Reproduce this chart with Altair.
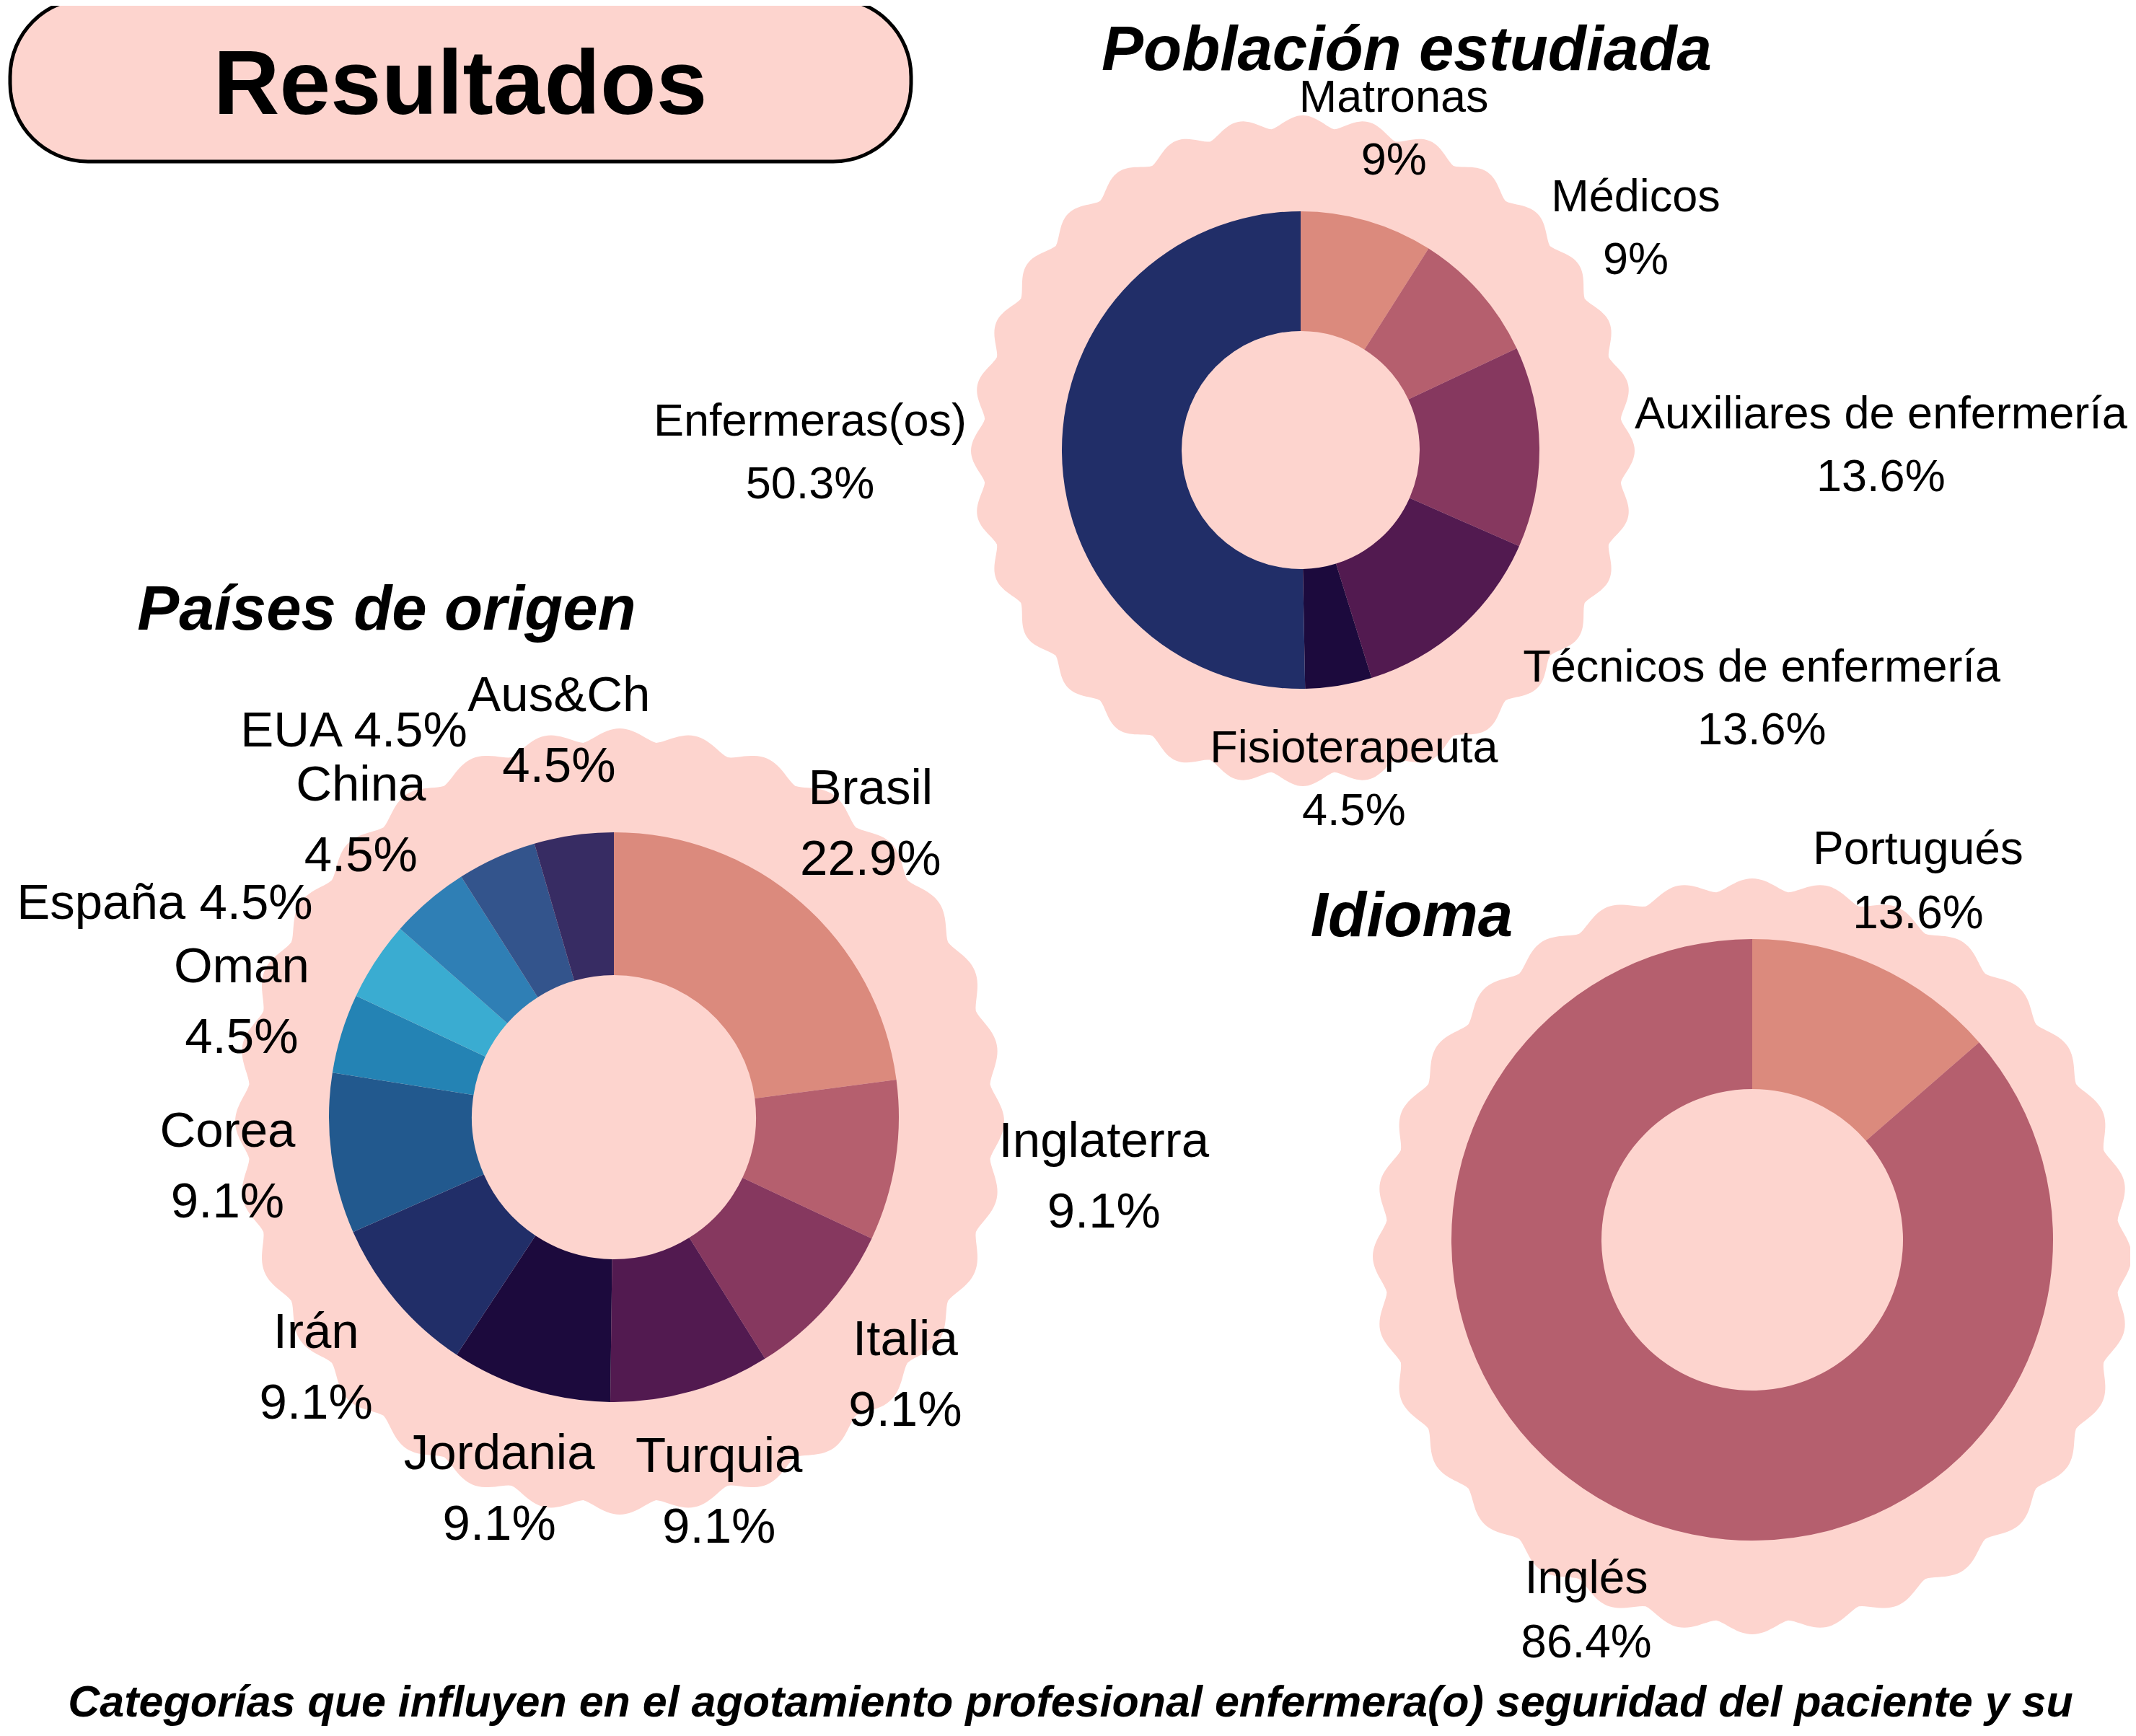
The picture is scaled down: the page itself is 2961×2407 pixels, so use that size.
import json
import math

import altair as alt
import pandas as pd

# ------------------------------------------------------------------ data
poblacion_cat = ["Matronas", "Médicos", "Auxiliares de enfermería",
                 "Técnicos de enfermería", "Fisioterapeuta", "Enfermeras(os)"]
poblacion_val = [9.0, 9.0, 13.6, 13.6, 4.5, 50.3]
poblacion_lbl = ["9%", "9%", "13.6%", "13.6%", "4.5%", "50.3%"]

paises_cat = ["Brasil", "Inglaterra", "Italia", "Turquia", "Jordania", "Irán",
              "Corea", "Oman", "España", "China", "EUA", "Aus&Ch"]
paises_val = [22.9, 9.1, 9.1, 9.1, 9.1, 9.1, 9.1, 4.5, 4.5, 4.5, 4.5, 4.5]
paises_lbl = ["22.9%", "9.1%", "9.1%", "9.1%", "9.1%", "9.1%", "9.1%",
              "4.5%", "4.5%", "4.5%", "4.5%", "4.5%"]

idioma_cat = ["Portugués", "Inglés"]
idioma_val = [13.6, 86.4]
idioma_lbl = ["13.6%", "86.4%"]

TITLE_MAIN = "Resultados"
TITLE_POB = "Población estudiada"
TITLE_PAI = "Países de origen"
TITLE_IDI = "Idioma"
FOOTER = ("Categorías que influyen en el agotamiento profesional enfermera(o) "
          "seguridad del paciente y su")

# ------------------------------------------------------------------ styles
PINK = "#FDD4CE"
SALMON, ROSE, PLUM, PURPLE, DARKEST, NAVY = (
    "#DB8A7D", "#B55F6E", "#86385F", "#521A50", "#1C0A3D", "#212E68")
poblacion_colors = [SALMON, ROSE, PLUM, PURPLE, DARKEST, NAVY]
paises_colors = [SALMON, ROSE, PLUM, PURPLE, DARKEST, NAVY,
                 "#22598E", "#2483B4", "#3AACD1", "#2F7FB5", "#33548C", "#372C63"]
idioma_colors = [SALMON, ROSE]

FONT = "Liberation Sans"
W, H = 2945, 2388
MARGIN = 8

# Arial / Liberation Sans advance widths (1/1000 em) for text measuring
_CW = {" ": 278, "%": 889, ".": 278, "(": 333, ")": 333, "&": 667,
       "A": 667, "C": 722, "E": 667, "I": 278, "J": 500, "M": 833, "O": 778,
       "P": 667, "T": 611, "B": 667, "U": 722, "F": 611,
       "a": 556, "b": 556, "c": 500, "d": 556, "e": 556, "f": 278, "g": 556,
       "h": 556, "i": 222, "j": 222, "k": 500, "l": 222, "m": 833, "n": 556,
       "o": 556, "p": 556, "q": 556, "r": 333, "s": 500, "t": 278, "u": 556,
       "v": 500, "x": 500, "y": 500, "z": 500, "é": 556, "í": 278, "á": 556,
       "ñ": 556, "ú": 556, "ó": 556}


def text_width(s, fs):
    return sum(_CW.get(ch, 556) for ch in s) * fs / 1000.0


def S(v):
    """screen pixel -> chart pixel"""
    return v - MARGIN


def frame(cats, vals, lbls, cols):
    return pd.DataFrame({"cat": cats, "val": vals, "lbl": lbls,
                         "col": cols, "order": list(range(len(cats)))})


pob_df = frame(poblacion_cat, poblacion_val, poblacion_lbl, poblacion_colors)
pai_df = frame(paises_cat, paises_val, paises_lbl, paises_colors)
idi_df = frame(idioma_cat, idioma_val, idioma_lbl, idioma_colors)

one = alt.Data(values=[{"k": 0}])


def scallop_path(n_lobes, depth, ry_ratio, pts=24, power=1.4):
    parts = []
    total = n_lobes * pts
    for i in range(total):
        phi = 2 * math.pi * i / total
        bump = abs(math.cos(n_lobes * phi / 2)) ** power
        r = 1 - depth + depth * bump
        x = r * math.sin(phi)
        y = -r * math.cos(phi) * ry_ratio
        parts.append(f"{'M' if i == 0 else 'L'}{x:.4f},{y:.4f}")
    return "".join(parts) + "Z"


def wave(cx, cy, rx, ry, n=32, depth_px=17):
    path = scallop_path(n, depth_px / rx, ry / rx)
    return alt.Chart(one).mark_point(
        shape=path, filled=True, color=PINK, opacity=1, strokeWidth=0,
        size=(2 * rx) ** 2
    ).encode(x=alt.value(S(cx)), y=alt.value(S(cy)))


def donut(df, cx, cy, r_out, r_in):
    return alt.Chart(df).mark_arc(
        outerRadius=r_out, innerRadius=r_in, strokeWidth=0
    ).encode(
        theta=alt.Theta("val:Q", stack=True),
        order=alt.Order("order:Q", sort="ascending"),
        color=alt.Color("col:N", scale=None),
        x=alt.value(S(cx)), y=alt.value(S(cy)),
    )


def in_list(names):
    return f"indexof({json.dumps(names)}, datum.cat) >= 0"


def labels(df, cx, cy, r, filt, align, fs, lh, sep="\\n", dx=0, dy=0):
    return alt.Chart(df).transform_joinaggregate(
        total="sum(val)"
    ).transform_window(
        cum="sum(val)", sort=[alt.SortField("order", order="ascending")]
    ).transform_calculate(
        ang="(datum.cum - datum.val / 2) / datum.total * 360",
        txt=f"datum.cat + '{sep}' + datum.lbl",
    ).transform_filter(filt).mark_text(
        align=align, baseline="middle", font=FONT, fontSize=fs,
        lineHeight=lh, lineBreak="\n", color="black", dx=dx, dy=dy,
    ).encode(
        theta=alt.Theta("ang:Q", stack=False, scale=alt.Scale(domain=[0, 360])),
        radius=alt.value(r),
        text="txt:N",
        x=alt.value(S(cx)), y=alt.value(S(cy)),
    )


def mid_angles(vals):
    tot = sum(vals)
    out, cum = [], 0.0
    for v in vals:
        out.append((cum + v / 2) / tot * 360)
        cum += v
    return out


def block_labels(df, cats, lbls, vals, cx, cy, r, fs, lh, side_fn,
                 extra_dy=0, skip=()):
    """Two-line labels; lines centred on each other, block anchored by side."""
    out = []
    for cat, lbl, ang in zip(cats, lbls, mid_angles(vals)):
        if cat in skip:
            continue
        side = side_fn(cat, ang)
        w = max(text_width(cat, fs), text_width(lbl, fs))
        ddx = {"center": 0, "left": w / 2, "right": -w / 2}[side]
        out.append(labels(df, cx, cy, r, in_list([cat]), "center", fs, lh,
                          dx=ddx, dy=-lh / 2 + extra_dy))
    return out


def title(txt, cx, base_y, fs, italic=True):
    return alt.Chart(one).mark_text(
        text=txt, font=FONT, fontSize=fs, fontWeight="bold",
        fontStyle="italic" if italic else "normal",
        align="center", baseline="alphabetic", color="black",
    ).encode(x=alt.value(S(cx)), y=alt.value(S(base_y)))


layers = []

# background scalloped discs
layers.append(wave(1806, 625, 460, 465))
layers.append(wave(859, 1555, 533, 545))
layers.append(wave(2429, 1742, 526, 524))

# header pill
layers.append(alt.Chart(one).mark_rect(
    fill=PINK, stroke="black", strokeWidth=5, cornerRadius=108
).encode(x=alt.value(S(14)), x2=alt.value(S(1263)),
         y=alt.value(S(-2)), y2=alt.value(S(224))))
layers.append(title(TITLE_MAIN, 638, 158, 127, italic=False))


# Población estudiada
def pob_side(cat, ang):
    if ang < 30 or ang > 330 or 150 < ang < 210:
        return "center"
    return "left" if ang < 180 else "right"


PC = (1803, 624)
layers.append(donut(pob_df, *PC, 331, 165))
layers += block_labels(pob_df, poblacion_cat, poblacion_lbl, poblacion_val,
                       *PC, 463, 63, 87, pob_side)
layers.append(title(TITLE_POB, 1950, 97, 87))

# Países de origen
AC = (851, 1549)
PAISES_LEFT = ["Inglaterra"]
PAISES_INLINE = {"España": (34, 0), "EUA": (19, -43)}
layers.append(donut(pai_df, *AC, 395, 197))
layers += block_labels(pai_df, paises_cat, paises_lbl, paises_val, *AC, 540, 69, 98,
                       lambda c, a: "left" if c in PAISES_LEFT else "center",
                       skip=tuple(PAISES_INLINE))
for name, (ddx, ddy) in PAISES_INLINE.items():
    layers.append(labels(pai_df, *AC, 540, in_list([name]), "right", 69, 98,
                         sep=" ", dx=ddx, dy=ddy))
layers.append(title(TITLE_PAI, 536, 873, 87))

# Idioma
IC = (2429, 1719)
layers.append(donut(idi_df, *IC, 417, 209))
layers += block_labels(idi_df, idioma_cat, idioma_lbl, idioma_val, *IC, 555, 64, 89,
                       lambda c, a: "center", extra_dy=10)
layers.append(title(TITLE_IDI, 1957, 1298, 87))

# footer
layers.append(title(FOOTER, 1484, 2380, 61))

chart = alt.layer(*layers).resolve_scale(
    theta="independent"
).properties(
    width=W, height=H, padding=0,
    autosize=alt.AutoSizeParams(type="none"),
    background="white",
).configure_view(stroke=None)

chart.save("out.html", embed_options={"renderer": "svg", "actions": False})
